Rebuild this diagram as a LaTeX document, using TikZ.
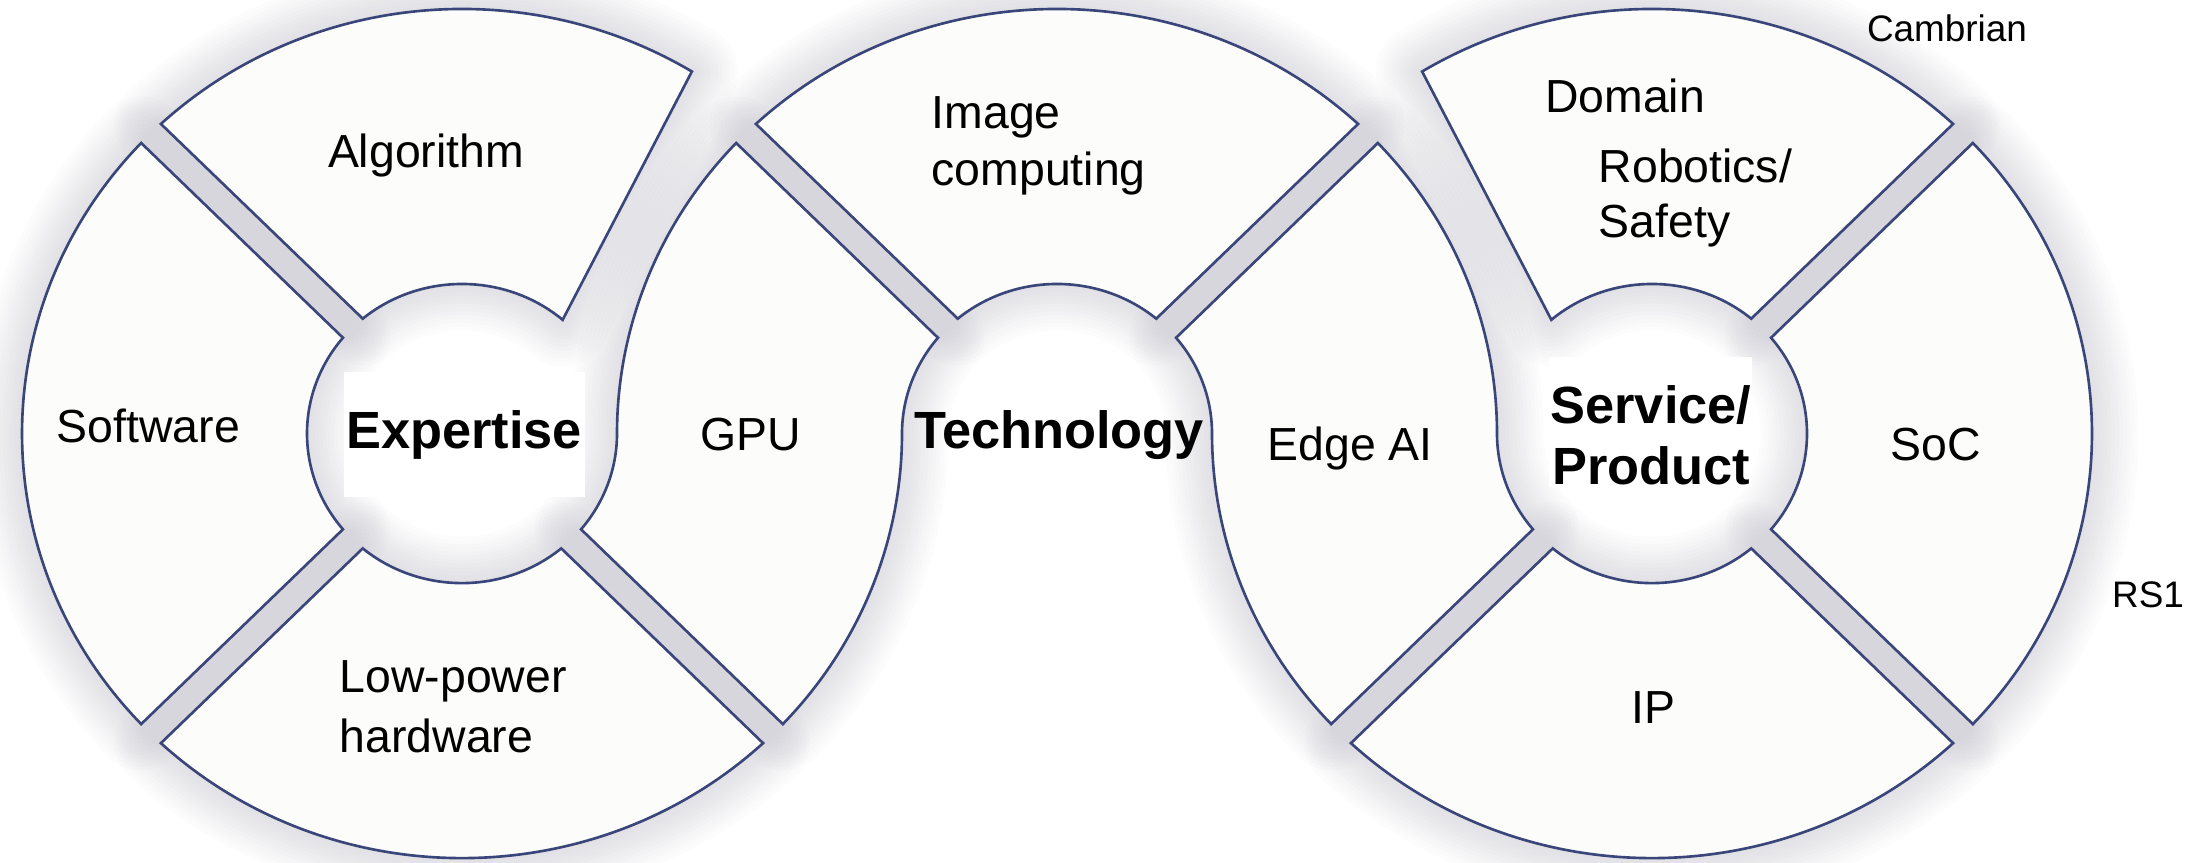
\documentclass[tikz,border=0pt]{standalone}
\usepackage{fontspec}
\setmainfont{Liberation Sans}
\usetikzlibrary{calc}
\definecolor{ringline}{RGB}{58,70,122}
\definecolor{ringfill}{RGB}{252,253,250}
\definecolor{ringhalo}{RGB}{88,88,112}
% one block of a ring: centre, outer arc from/to, inner arc from/to
\newcommand{\ringseg}[5]{($(#1)+(#2:\Ro)$) arc[start angle=#2, end angle=#3, radius=\Ro]
  -- ($(#1)+(#4:\Ri)$) arc[start angle=#4, end angle=#5, radius=\Ri] -- cycle}
\tikzset{
  seg/.style={draw=ringline, line width=0.75pt, fill=ringfill},
  halo/.style={draw=ringhalo, draw opacity=0.014, line join=round},
  lbl/.style={font=\fontsize{13.2}{16}\selectfont, inner sep=0pt},
  hub/.style={font=\fontsize{14.9}{18}\selectfont\bfseries, inner sep=0pt},
  note/.style={font=\fontsize{10.5}{12.6}\selectfont, inner sep=0pt}
}
\begin{document}
\begin{tikzpicture}
\useasboundingbox (0,0) rectangle (22.08,8.62);
\begin{scope}[yscale=0.965]
\def\Ro{4.40}
\def\Ri{1.55}
\coordinate (E) at (4.62,4.4404);
\coordinate (T) at (10.57,4.4404);
\coordinate (S) at (16.52,4.4404);
\def\sAlgo{\ringseg{E}{58.5}{133.18}{129.82}{49.5}}
\def\sSoft{\ringseg{E}{136.82}{223.18}{219.82}{140.18}}
\def\sLow{\ringseg{E}{226.82}{313.18}{309.82}{230.18}}
\def\sImg{\ringseg{T}{46.82}{133.18}{129.82}{50.18}}
\def\sDom{\ringseg{S}{46.82}{121.5}{130.5}{50.18}}
\def\sSoc{\ringseg{S}{-43.18}{43.18}{39.82}{-39.82}}
\def\sIp{\ringseg{S}{226.82}{313.18}{309.82}{230.18}}
\def\sGpu{($(T)+(136.82:\Ro)$) arc[start angle=136.82, end angle=180, radius=\Ro]
  arc[start angle=0, end angle=-39.82, radius=\Ri]
  -- ($(E)+(-43.18:\Ro)$) arc[start angle=-43.18, end angle=0, radius=\Ro]
  arc[start angle=180, end angle=140.18, radius=\Ri] -- cycle}
\def\sEdge{($(T)+(43.18:\Ro)$) arc[start angle=43.18, end angle=0, radius=\Ro]
  arc[start angle=180, end angle=219.82, radius=\Ri]
  -- ($(S)+(223.18:\Ro)$) arc[start angle=223.18, end angle=180, radius=\Ro]
  arc[start angle=0, end angle=39.82, radius=\Ri] -- cycle}
\foreach \piece in {\sAlgo,\sSoft,\sLow,\sGpu,\sImg,\sEdge,\sDom,\sSoc,\sIp}
  \foreach \k in {1,...,12}
    \draw[halo, line width=\k*2.2pt] \piece;
\draw[seg] \sAlgo \sSoft \sLow \sGpu \sImg \sEdge \sDom \sSoc \sIp;
\end{scope}
\node[lbl, anchor=base] (algo) at (4.26,6.95) {Algorithm};
\node[lbl, anchor=base] (soft) at (1.485,4.20) {Software};
\node[hub, anchor=base, fill=white, minimum width=2.41cm, minimum height=1.25cm] (expert) at (4.64,4.14) {Expertise};
\node[lbl, anchor=base] (gpu) at (7.51,4.12) {GPU};
\node[hub, anchor=base] (tech) at (10.59,4.14) {Technology};
\node[lbl, anchor=base west] (image) at (9.31,7.34) {Image};
\node[lbl, anchor=base west] (computing) at (9.31,6.77) {computing};
\node[lbl, anchor=base west] (lowpow) at (3.39,1.70) {Low-power};
\node[lbl, anchor=base west] (hardw) at (3.39,1.10) {hardware};
\node[lbl, anchor=base] (edgeai) at (13.50,4.02) {Edge AI};
\node[fill=white, minimum width=2.03cm, minimum height=1.30cm] (spbox) at (16.505,4.40) {};
\node[hub, anchor=base] (service) at (16.51,4.39) {Service/};
\node[hub, anchor=base] (product) at (16.51,3.78) {Product};
\node[lbl, anchor=base] (soc) at (19.355,4.02) {SoC};
\node[lbl, anchor=base] (ip) at (16.535,1.39) {IP};
\node[lbl, anchor=base] (domain) at (16.25,7.50) {Domain};
\node[lbl, anchor=base west] (robotics) at (15.98,6.80) {Robotics/};
\node[lbl, anchor=base west] (safety) at (15.98,6.25) {Safety};
\node[note, anchor=base] (cambrian) at (19.47,8.21) {Cambrian};
\node[note, anchor=base] (rs1) at (21.48,2.55) {RS1};
\end{tikzpicture}
\end{document}
